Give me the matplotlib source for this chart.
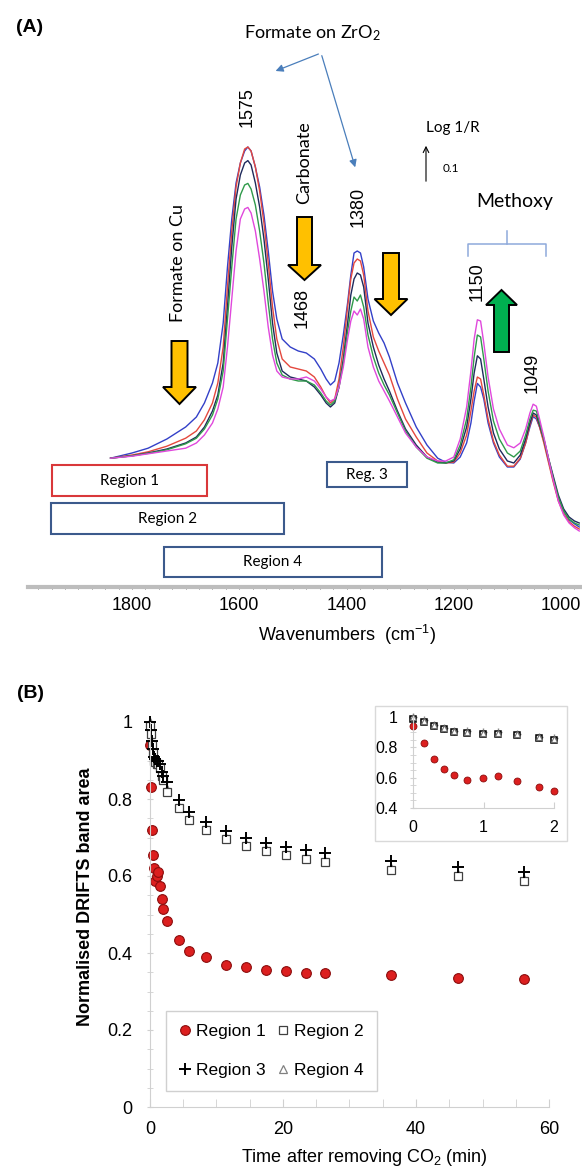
import matplotlib
matplotlib.use('Agg')
import matplotlib.pyplot as plt
from matplotlib.patches import Polygon, Rectangle, FancyArrowPatch
from matplotlib.lines import Line2D
from matplotlib.ticker import MultipleLocator, FuncFormatter

plt.rcParams['font.family'] = ['Liberation Sans', 'DejaVu Sans']
plt.rcParams['mathtext.fontset'] = 'custom'
plt.rcParams['mathtext.rm'] = 'Liberation Sans'

# ---------------- data: panel A, DRIFTS spectra ----------------
wavenumber = [1840, 1800, 1770, 1735, 1700, 1680, 1665, 1650, 1640, 1630,
              1622, 1614, 1606, 1598, 1590, 1584, 1578, 1570, 1562, 1554,
              1546, 1538, 1530, 1520, 1505, 1490, 1475, 1460, 1448, 1438,
              1430, 1422, 1414, 1406, 1398, 1392, 1386, 1380, 1374, 1368,
              1360, 1350, 1340, 1330, 1320, 1305, 1290, 1270, 1250, 1230,
              1215, 1200, 1188, 1176, 1168, 1162, 1156, 1150, 1144, 1136,
              1126, 1115, 1100, 1088, 1076, 1066, 1058, 1052, 1046, 1040,
              1032, 1024, 1015, 1005, 995, 985, 975, 966]

spec_blue = [0.322, 0.335, 0.347, 0.370, 0.400, 0.425, 0.460, 0.510, 0.560, 0.660,
             0.800, 0.920, 1.010, 1.060, 1.090, 1.100, 1.090, 1.050, 1.000, 0.930,
             0.840, 0.740, 0.670, 0.620, 0.600, 0.590, 0.585, 0.570, 0.545, 0.520,
             0.505, 0.515, 0.560, 0.630, 0.710, 0.780, 0.835, 0.840, 0.835, 0.800,
             0.720, 0.665, 0.635, 0.610, 0.575, 0.510, 0.460, 0.400, 0.355, 0.322,
             0.312, 0.310, 0.325, 0.360, 0.410, 0.465, 0.509, 0.500, 0.470, 0.410,
             0.360, 0.325, 0.300, 0.300, 0.320, 0.360, 0.400, 0.426, 0.420, 0.400,
             0.365, 0.320, 0.270, 0.220, 0.190, 0.168, 0.158, 0.150]
spec_red = [0.322, 0.330, 0.338, 0.352, 0.372, 0.390, 0.418, 0.460, 0.510, 0.600,
            0.750, 0.890, 1.000, 1.060, 1.095, 1.100, 1.090, 1.050, 0.990, 0.910,
            0.810, 0.700, 0.620, 0.570, 0.550, 0.545, 0.540, 0.525, 0.500, 0.475,
            0.460, 0.470, 0.520, 0.600, 0.700, 0.770, 0.810, 0.820, 0.815, 0.780,
            0.690, 0.625, 0.590, 0.560, 0.530, 0.470, 0.420, 0.375, 0.335, 0.315,
            0.310, 0.312, 0.335, 0.380, 0.440, 0.490, 0.525, 0.520, 0.480, 0.420,
            0.365, 0.330, 0.302, 0.302, 0.322, 0.360, 0.405, 0.430, 0.425, 0.400,
            0.360, 0.315, 0.265, 0.215, 0.183, 0.163, 0.152, 0.145]
spec_navy = [0.322, 0.328, 0.335, 0.345, 0.360, 0.375, 0.400, 0.440, 0.480, 0.560,
             0.700, 0.850, 0.970, 1.030, 1.060, 1.066, 1.055, 1.010, 0.950, 0.870,
             0.770, 0.660, 0.585, 0.540, 0.525, 0.520, 0.515, 0.500, 0.480, 0.460,
             0.450, 0.460, 0.500, 0.570, 0.660, 0.730, 0.770, 0.785, 0.780, 0.750,
             0.660, 0.600, 0.555, 0.520, 0.490, 0.440, 0.395, 0.355, 0.325, 0.312,
             0.310, 0.315, 0.345, 0.400, 0.470, 0.535, 0.578, 0.570, 0.520, 0.450,
             0.385, 0.345, 0.315, 0.310, 0.330, 0.370, 0.410, 0.435, 0.430, 0.405,
             0.370, 0.325, 0.280, 0.230, 0.195, 0.175, 0.165, 0.160]
spec_green = [0.322, 0.328, 0.334, 0.343, 0.358, 0.372, 0.395, 0.430, 0.470, 0.540,
              0.670, 0.800, 0.920, 0.980, 1.005, 1.009, 0.995, 0.955, 0.890, 0.810,
              0.710, 0.620, 0.560, 0.530, 0.520, 0.515, 0.515, 0.505, 0.485, 0.465,
              0.455, 0.465, 0.500, 0.560, 0.640, 0.690, 0.725, 0.715, 0.730, 0.700,
              0.630, 0.575, 0.535, 0.505, 0.480, 0.435, 0.390, 0.350, 0.322, 0.310,
              0.310, 0.318, 0.355, 0.420, 0.500, 0.575, 0.630, 0.625, 0.570, 0.490,
              0.415, 0.370, 0.335, 0.325, 0.340, 0.380, 0.420, 0.442, 0.440, 0.410,
              0.370, 0.325, 0.275, 0.225, 0.190, 0.170, 0.160, 0.155]
spec_magenta = [0.322, 0.327, 0.333, 0.340, 0.347, 0.360, 0.380, 0.410, 0.445, 0.500,
                0.600, 0.720, 0.840, 0.920, 0.945, 0.949, 0.935, 0.890, 0.820, 0.740,
                0.650, 0.580, 0.540, 0.525, 0.520, 0.520, 0.525, 0.515, 0.495, 0.475,
                0.465, 0.470, 0.500, 0.550, 0.620, 0.665, 0.690, 0.680, 0.695, 0.670,
                0.600, 0.550, 0.515, 0.490, 0.465, 0.425, 0.385, 0.350, 0.325, 0.315,
                0.315, 0.325, 0.370, 0.450, 0.540, 0.620, 0.668, 0.665, 0.610, 0.525,
                0.445, 0.395, 0.355, 0.348, 0.360, 0.395, 0.435, 0.457, 0.452, 0.420,
                0.375, 0.325, 0.270, 0.215, 0.180, 0.160, 0.148, 0.140]

spectra = [spec_blue, spec_red, spec_navy, spec_green, spec_magenta]
spec_colors = ['#3340c8', '#e4483e', '#1f2a5c', '#2f9a4a', '#e048dc']

# ---------------- data: panel B, normalised band areas ----------------
time_min = [0, 0.15, 0.3, 0.44, 0.58, 0.77, 0.99, 1.21, 1.47, 1.79, 2.0, 2.6,
            4.3, 5.9, 8.4, 11.5, 14.4, 17.4, 20.4, 23.4, 26.3, 36.3, 46.3, 56.2]
region1 = [0.94, 0.83, 0.72, 0.655, 0.62, 0.587, 0.60, 0.61, 0.575, 0.54, 0.515, 0.484,
           0.434, 0.405, 0.389, 0.369, 0.363, 0.356, 0.352, 0.347, 0.348, 0.342, 0.335, 0.332]
region2 = [0.99, 0.97, 0.94, 0.92, 0.90, 0.895, 0.89, 0.89, 0.88, 0.86, 0.85, 0.819,
           0.776, 0.745, 0.719, 0.695, 0.679, 0.665, 0.654, 0.643, 0.637, 0.616, 0.600, 0.588]
region3 = [1.0, 0.98, 0.95, 0.93, 0.91, 0.905, 0.90, 0.90, 0.89, 0.87, 0.86, 0.845,
           0.797, 0.767, 0.741, 0.718, 0.700, 0.687, 0.675, 0.668, 0.659, 0.640, 0.623, 0.610]
region4 = [1.0, 0.975, 0.945, 0.925, 0.905, 0.90, 0.895, 0.895, 0.885, 0.865, 0.855, 0.825,
           0.780, 0.750, 0.723, 0.700, 0.683, 0.670, 0.658, 0.647, 0.640, 0.620, 0.604, 0.592]

W, H = 582, 1168
fig = plt.figure(figsize=(W / 100, H / 100), dpi=100)


def fx(x):
    return x / W


def fy(y):
    return 1 - y / H


# ======================= panel A =======================
axA = fig.add_axes([fx(28), fy(587), 552 / W, 587 / H])
for s, c in zip(spectra, spec_colors):
    axA.plot(wavenumber, s, color=c, lw=1.0)
axA.set_xlim(1994, 964.6)
axA.set_ylim(0, 587 / 400)
for sp in ['left', 'top', 'right']:
    axA.spines[sp].set_visible(False)
axA.spines['bottom'].set_color('#bdbdbd')
axA.spines['bottom'].set_linewidth(3.0)
axA.set_yticks([])
axA.xaxis.set_major_locator(MultipleLocator(200))
axA.xaxis.set_minor_locator(MultipleLocator(25))
axA.tick_params(axis='x', which='both', direction='inout', length=3, width=0.6,
                color='#555555', labelsize=13, pad=6)

lato = ['Lato', 'DejaVu Sans']
fig.text(fx(30), fy(27), '(A)', fontsize=14, fontweight='bold', ha='center', va='center')
fig.text(fx(312), fy(33), r'Formate on ZrO$\mathregular{_2}$', family=lato, fontsize=13,
         ha='center', va='center')
for end in [(273, 72), (356, 170)]:
    fig.add_artist(FancyArrowPatch((fx(321), fy(53)), (fx(end[0]), fy(end[1])),
                                   transform=fig.transFigure, arrowstyle='-|>',
                                   mutation_scale=11, color='#4a7ebb', lw=0.9))

peak_labels = [('1575', 247, 107), ('1468', 302, 308), ('1380', 358, 207),
               ('1150', 477, 282), ('1049', 532, 373)]
for txt, x, y in peak_labels:
    fig.text(fx(x), fy(y), txt, rotation=90, fontsize=13, ha='center', va='center')
fig.text(fx(304), fy(163), 'Carbonate', rotation=90, family=lato, fontsize=13,
         ha='center', va='center')
fig.text(fx(178), fy(263), 'Formate on Cu', rotation=90, family=lato, fontsize=13,
         ha='center', va='center')
fig.text(fx(515), fy(202), 'Methoxy', family=lato, fontsize=14, ha='center', va='center')
fig.text(fx(453), fy(128), 'Log 1/R', family=lato, fontsize=11, ha='center', va='center')
fig.text(fx(451), fy(169), '0.1', family=lato, fontsize=8.5, ha='center', va='center')
fig.add_artist(FancyArrowPatch((fx(426), fy(184)), (fx(426), fy(143)),
                               transform=fig.transFigure, arrowstyle='->',
                               mutation_scale=10, color='black', lw=0.8))

# methoxy bracket
br = '#8eaadb'
fig.add_artist(Line2D([fx(468), fx(468), fx(546), fx(546)],
                      [fy(256), fy(244), fy(244), fy(256)], color=br, lw=1.1))
fig.add_artist(Line2D([fx(507), fx(507)], [fy(244), fy(231)], color=br, lw=1.1))


def block_arrow(xc, y_tail, y_tip, shaft_w, head_w, head_len, color):
    d = 1 if y_tip > y_tail else -1
    y_neck = y_tip - d * head_len
    pts = [(xc - shaft_w / 2, y_tail), (xc + shaft_w / 2, y_tail),
           (xc + shaft_w / 2, y_neck), (xc + head_w / 2, y_neck), (xc, y_tip),
           (xc - head_w / 2, y_neck), (xc - shaft_w / 2, y_neck)]
    fig.add_artist(Polygon([(fx(a), fy(b)) for a, b in pts], closed=True,
                           transform=fig.transFigure, facecolor=color,
                           edgecolor='black', lw=1.4, joinstyle='miter'))


block_arrow(179.5, 341, 404, 16, 33, 17, '#ffc000')
block_arrow(304.5, 217, 280, 15, 33, 15, '#ffc000')
block_arrow(391, 253, 315, 16, 33, 16, '#ffc000')
block_arrow(501.5, 352, 290, 15, 31, 15, '#00b050')

boxes = [('Region 1', 52, 207, 465, 496, '#d9383a'),
         ('Region 2', 51, 284, 503, 534, '#3c5a8c'),
         ('Reg. 3', 327, 407, 462, 487, '#3c5a8c'),
         ('Region 4', 164, 382, 547, 577, '#3c5a8c')]
for txt, x0, x1, y0, y1, ec in boxes:
    fig.add_artist(Rectangle((fx(x0), fy(y1)), (x1 - x0) / W, (y1 - y0) / H,
                             transform=fig.transFigure, facecolor='none',
                             edgecolor=ec, lw=1.5))
    fig.text(fx((x0 + x1) / 2), fy((y0 + y1) / 2), txt, family=lato, fontsize=11,
             ha='center', va='center')

fig.text(fx(347), fy(635), r'Wavenumbers  (cm$\mathregular{^{-1}}$)', fontsize=13,
         ha='center', va='center')

# ======================= panel B =======================
fig.text(fx(30), fy(693), '(B)', fontsize=14, fontweight='bold', ha='center', va='center')
axB = fig.add_axes([fx(150), fy(1107), 399 / W, 385 / H])

st1 = dict(ls='none', marker='o', ms=7, mfc='#dc1f1f', mec='#8b0d0d', mew=0.8)
st2 = dict(ls='none', marker='s', ms=5.5, mfc='white', mec='#404040', mew=0.9)
st3 = dict(ls='none', marker='+', ms=9, mec='black', mew=1.4)
st4 = dict(ls='none', marker='^', ms=5.5, mfc='white', mec='#808080', mew=0.9)

axB.plot(time_min, region1, clip_on=False, **st1)
axB.plot(time_min, region4, clip_on=False, **st4)
axB.plot(time_min, region2, clip_on=False, **st2)
axB.plot(time_min, region3, clip_on=False, **st3)
axB.set_xlim(0, 60)
axB.set_ylim(0, 1)
for sp in ['top', 'right']:
    axB.spines[sp].set_visible(False)
for sp in ['left', 'bottom']:
    axB.spines[sp].set_color('#d0d0d0')
axB.xaxis.set_major_locator(MultipleLocator(20))
axB.xaxis.set_minor_locator(MultipleLocator(5))
axB.yaxis.set_major_locator(MultipleLocator(0.2))
axB.yaxis.set_minor_locator(MultipleLocator(0.05))
fmt = FuncFormatter(lambda v, p: f'{v:g}')
axB.yaxis.set_major_formatter(fmt)
axB.tick_params(axis='x', which='both', direction='in', length=6, color='#d0d0d0',
                labelsize=13, pad=10)
axB.tick_params(axis='y', which='both', direction='inout', length=5, color='#d0d0d0',
                labelsize=13, pad=10)

fig.text(fx(85), fy(897), 'Normalised DRIFTS band area', rotation=90, fontsize=13,
         fontweight='bold', ha='center', va='center')
fig.text(fx(364), fy(1157), r'Time after removing CO$\mathregular{_2}$ (min)', fontsize=13,
         ha='center', va='center')

handles = [Line2D([], [], **st1), Line2D([], [], **st3),
           Line2D([], [], **st2), Line2D([], [], **st4)]
labels = ['Region 1', 'Region 3', 'Region 2', 'Region 4']
leg = axB.legend(handles, labels, ncol=2, loc='lower left',
                 bbox_to_anchor=(fx(166), fy(1091)), bbox_transform=fig.transFigure,
                 fontsize=12.5, frameon=True, fancybox=False, framealpha=1,
                 edgecolor='#d0d0d0', handlelength=0.7, handletextpad=0.25,
                 columnspacing=0.7, labelspacing=1.35, borderpad=0.75, borderaxespad=0)
leg.get_frame().set_linewidth(1.0)

# inset
fig.add_artist(Rectangle((fx(375), fy(841)), 192 / W, 135 / H, transform=fig.transFigure,
                         facecolor='white', edgecolor='#d9d9d9', lw=1.0, zorder=2))
axI = fig.add_axes([fx(413), fy(808), 141 / W, 91 / H], zorder=3)
axI.patch.set_alpha(0)
early = [i for i, t in enumerate(time_min) if t <= 2.0]
te = [time_min[i] for i in early]
axI.plot(te, [region1[i] for i in early], clip_on=False,
         **dict(st1, ms=5, mew=0.6))
axI.plot(te, [region3[i] for i in early], clip_on=False,
         **dict(st3, ms=6, mew=1.0, mec='#8a8a8a'))
axI.plot(te, [region2[i] for i in early], clip_on=False,
         **dict(st2, ms=3.8, mec='black', mew=1.1))
axI.plot(te, [region4[i] for i in early], clip_on=False,
         **dict(st4, ms=3.8, mec='#707070', mew=0.8))
axI.set_xlim(0, 2)
axI.set_ylim(0.4, 1)
for sp in ['top', 'right']:
    axI.spines[sp].set_visible(False)
for sp in ['left', 'bottom']:
    axI.spines[sp].set_color('#d0d0d0')
axI.xaxis.set_major_locator(MultipleLocator(1))
axI.yaxis.set_major_locator(MultipleLocator(0.2))
axI.yaxis.set_minor_locator(MultipleLocator(0.05))
axI.yaxis.set_major_formatter(fmt)
axI.tick_params(axis='x', which='both', direction='in', length=4, color='#d0d0d0',
                labelsize=11.5, pad=9)
axI.tick_params(axis='y', which='both', direction='inout', length=4, color='#d0d0d0',
                labelsize=11.5, pad=9)

fig.savefig('out.png', dpi=100)
